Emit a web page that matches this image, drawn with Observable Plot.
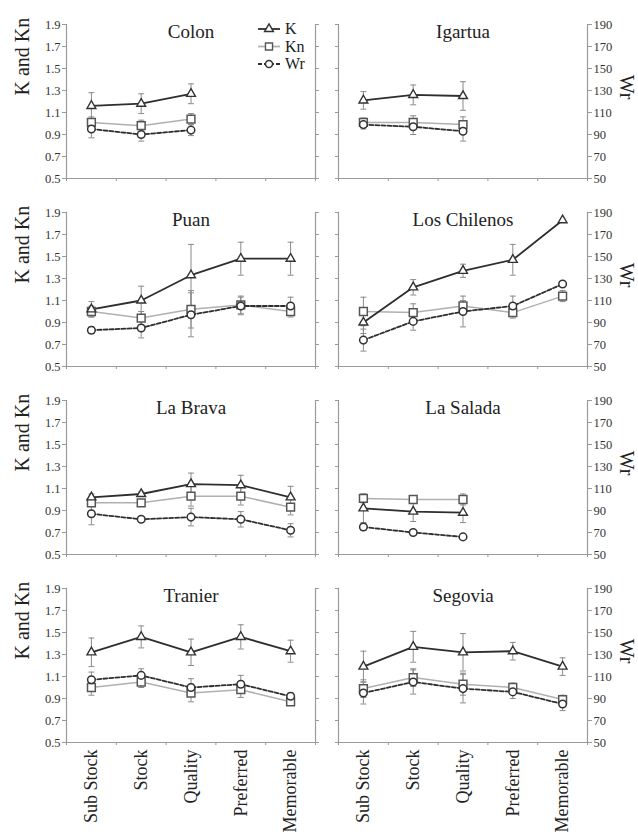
<!DOCTYPE html>
<html><head><meta charset="utf-8">
<script src="https://cdn.jsdelivr.net/npm/d3@7"></script>
<script src="https://cdn.jsdelivr.net/npm/@observablehq/plot@0.6"></script>
<style>
body{margin:0;background:#fff;}
#wrap{position:relative;width:638px;height:837px;overflow:hidden;background:#fff;}
#wrap svg, #wrap svg text{font-family:'Liberation Serif','Times New Roman',Times,serif;}
#legend{position:absolute;left:250px;top:18px;}
</style></head><body>
<div id="wrap"><div id="chart"></div><div id="legend"></div></div>
<script>
// ---- data ----
const categories = ["Sub Stock","Stock","Quality","Preferred","Memorable"];
const sites = ["Colon","Igartua","Puan","Los Chilenos","La Brava","La Salada","Tranier","Segovia"];
const kTicks = [0.5,0.7,0.9,1.1,1.3,1.5,1.7,1.9];
const wrTicks = [50,70,90,110,130,150,170,190];

const K = [
  [1.16,1.18,1.27],
  [1.21,1.26,1.25],
  [1.02,1.10,1.33,1.48,1.48],
  [0.90,1.22,1.37,1.47,1.83],
  [1.02,1.05,1.14,1.13,1.02],
  [0.92,0.89,0.88],
  [1.32,1.46,1.32,1.46,1.33],
  [1.19,1.37,1.32,1.33,1.19]
];
const KErr = [
  [0.12,0.09,0.09],
  [0.08,0.09,0.13],
  [0.07,0.13,0.28,0.15,0.15],
  [0.10,0.07,0.06,0.14,0],
  [0.03,0.02,0.10,0.09,0.10],
  [0.13,0.09,0.09],
  [0.13,0.10,0.12,0.11,0.10],
  [0.14,0.14,0.17,0.08,0.08]
];
const Kn = [
  [1.01,0.98,1.04],
  [1.01,1.01,0.99],
  [1.00,0.94,1.02,1.06,1.00],
  [1.00,0.99,1.05,0.99,1.14],
  [0.97,0.97,1.03,1.03,0.93],
  [1.01,1.00,1.00],
  [1.00,1.05,0.95,0.98,0.87],
  [0.99,1.09,1.03,1.00,0.89]
];
const KnErr = [
  [0.05,0.05,0.05],
  [0.04,0.06,0.07],
  [0.05,0.06,0.17,0.08,0.05],
  [0.13,0.08,0.05,0.05,0.05],
  [0.03,0.03,0.09,0.08,0.07],
  [0.04,0.03,0.05],
  [0.07,0.05,0.08,0.07,0.03],
  [0.08,0.08,0.10,0.04,0.04]
];
const Wr = [
  [95,90,94],
  [99,97,93],
  [83,85,97,105,105],
  [74,91,100,105,125],
  [87,82,84,82,72],
  [75,70,66],
  [107,111,100,103,92],
  [95,105,99,96,85]
];
const WrErr = [
  [8,6,5],
  [4,7,9],
  [3,9,20,8,8],
  [10,8,14,9,0],
  [10,2,8,7,6],
  [3,2,2],
  [7,6,8,8,3],
  [10,11,13,6,6]
];

// ---- build table ----
const rows = [];
const panels = sites.map((site, s) => ({site, col: s % 2 ? "R" : "L", row: Math.floor(s / 2)}));
panels.forEach((p, s) => {
  const add = (series, vals, errs, scale) => vals.forEach((v, i) => rows.push({
    site: p.site, col: p.col, row: p.row, series, cat: categories[i], x: i + 0.5,
    y: v / scale, lo: (v - errs[i]) / scale, hi: (v + errs[i]) / scale, err: errs[i]
  }));
  add("K", K[s], KErr[s], 1);
  add("Kn", Kn[s], KnErr[s], 1);
  add("Wr", Wr[s], WrErr[s], 100);
});
const withErr = rows.filter(d => d.err > 0);
const bySeries = s => rows.filter(d => d.series === s);

const cap = {draw(ctx, size) { const w = Math.sqrt(size / Math.PI) * 0.85; ctx.moveTo(-w, 0); ctx.lineTo(w, 0); }};
const F = {fx: "col", fy: "row"};
const serif = "'Liberation Serif', 'Times New Roman', Times, serif";

const chart = Plot.plot({
  width: 638, height: 837,
  marginLeft: 66, marginRight: 51, marginTop: 23, marginBottom: 93,
  style: {fontFamily: serif, fontSize: "12px", color: "#333", background: "#fff"},
  fx: {domain: ["L","R"], paddingInner: 0.0846, paddingOuter: 0, axis: null},
  fy: {domain: [0,1,2,3], paddingInner: 0.179, paddingOuter: 0, axis: null},
  x: {domain: [0, 5]},
  y: {domain: [0.5, 1.9]},
  marks: [
    Plot.frame({anchor: "left", stroke: "#9a9a9a", strokeWidth: 1.2}),
    Plot.frame({anchor: "right", stroke: "#9a9a9a", strokeWidth: 1.2}),
    Plot.frame({anchor: "bottom", stroke: "#9a9a9a", strokeWidth: 1.2}),
    Plot.axisY({anchor: "left", facetAnchor: "left", ticks: kTicks, tickFormat: d3.format(".1f"), tickSize: 4, tickPadding: 2, label: null, stroke: "#9a9a9a", fill: "#333", fontSize: 12.5, fontFamily: serif}),
    Plot.axisY({anchor: "left", facetAnchor: "right", ticks: kTicks, tickFormat: () => "", tickSize: 3, label: null, stroke: "#9a9a9a"}),
    Plot.axisY({anchor: "right", facetAnchor: "right", ticks: wrTicks.map(v => v / 100), tickFormat: d => String(Math.round(d * 100)), tickSize: 4, tickPadding: 2, label: null, stroke: "#9a9a9a", fill: "#333", fontSize: 12.5, fontFamily: serif}),
    Plot.axisY({anchor: "right", facetAnchor: "left", ticks: kTicks, tickFormat: () => "", tickSize: 3, label: null, stroke: "#9a9a9a"}),
    Plot.axisX({anchor: "bottom", facetAnchor: null, ticks: [0,1,2,3,4,5], tickFormat: () => "", tickSize: 3, label: null, stroke: "#9a9a9a"}),
    Plot.axisX({anchor: "bottom", facetAnchor: "bottom", ticks: categories.map((c, i) => i + 0.5), tickFormat: d => categories[Math.floor(d)], tickSize: 0, tickPadding: 7, tickRotate: -90, label: null, fill: "#222", fontSize: 18, fontFamily: serif}),
    // titles & axis labels
    Plot.text(panels, {...F, text: "site", frameAnchor: "top", lineAnchor: "top", fontSize: 19, fill: "#222", fontFamily: serif}),
    Plot.text(panels.filter(p => p.col === "L"), {...F, text: () => "K and Kn", frameAnchor: "left", rotate: -90, dx: -44, dy: -6, fontSize: 20, fill: "#222", fontFamily: serif}),
    Plot.text(panels.filter(p => p.col === "R"), {...F, text: () => "Wr", frameAnchor: "right", rotate: 90, dx: 39, dy: -2, fontSize: 20, fill: "#222", fontFamily: serif}),
    // error bars
    Plot.ruleX(withErr, {...F, x: "x", y1: "lo", y2: "hi", stroke: "#8a8a8a", strokeWidth: 1}),
    Plot.dot(withErr, {...F, x: "x", y: "lo", symbol: cap, r: 3.5, fill: "none", stroke: "#8a8a8a", strokeWidth: 1}),
    Plot.dot(withErr, {...F, x: "x", y: "hi", symbol: cap, r: 3.5, fill: "none", stroke: "#8a8a8a", strokeWidth: 1}),
    // lines
    Plot.line(bySeries("Kn"), {...F, x: "x", y: "y", stroke: "#b0b0b0", strokeWidth: 1.5}),
    Plot.line(bySeries("Wr"), {...F, x: "x", y: "y", stroke: "#2e2e2e", strokeWidth: 1.8, strokeDasharray: "4,2"}),
    Plot.line(bySeries("K"), {...F, x: "x", y: "y", stroke: "#2e2e2e", strokeWidth: 1.8}),
    // markers
    Plot.dot(bySeries("Kn"), {...F, x: "x", y: "y", symbol: "square", r: 4.4, fill: "white", stroke: "#555", strokeWidth: 1.5}),
    Plot.dot(bySeries("Wr"), {...F, x: "x", y: "y", symbol: "circle", r: 3.8, fill: "white", stroke: "#333", strokeWidth: 1.5}),
    Plot.dot(bySeries("K"), {...F, x: "x", y: "y", symbol: "triangle", r: 3.3, fill: "white", stroke: "#333", strokeWidth: 1.4})
  ]
});
document.getElementById("chart").appendChild(chart);

// ---- legend (inside Colon panel) ----
const legendItems = [
  {label: "K", stroke: "#2e2e2e", dash: null, symbol: d3.symbolTriangle, size: 34, mstroke: "#333"},
  {label: "Kn", stroke: "#b0b0b0", dash: null, symbol: d3.symbolSquare, size: 50, mstroke: "#555"},
  {label: "Wr", stroke: "#2e2e2e", dash: "4,2", symbol: d3.symbolCircle, size: 40, mstroke: "#333"}
];
const lg = d3.create("svg").attr("width", 70).attr("height", 60)
  .style("font-family", serif).style("font-size", "16px");
legendItems.forEach((it, i) => {
  const g = lg.append("g").attr("transform", `translate(0,${11 + i * 17.5})`);
  g.append("line").attr("x1", 8).attr("x2", 30).attr("stroke", it.stroke).attr("stroke-width", 1.8).attr("stroke-dasharray", it.dash);
  g.append("path").attr("transform", "translate(19,0)").attr("d", d3.symbol(it.symbol, it.size)()).attr("fill", "white").attr("stroke", it.mstroke).attr("stroke-width", 1.4);
  g.append("text").attr("x", 35).attr("y", 5).attr("fill", "#222").text(it.label);
});
document.getElementById("legend").appendChild(lg.node());
</script>
</body></html>
